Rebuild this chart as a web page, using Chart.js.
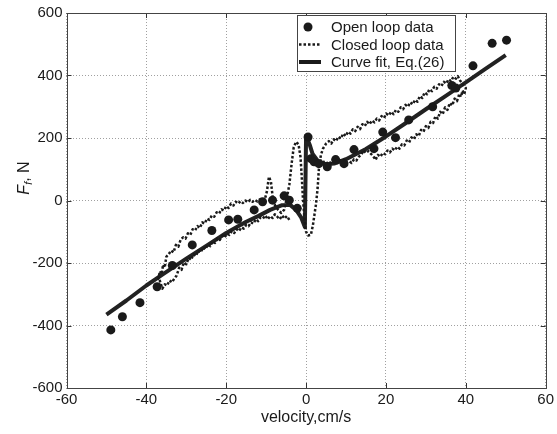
<!DOCTYPE html>
<html>
<head>
<meta charset="utf-8">
<script src="https://cdn.jsdelivr.net/npm/chart.js@4.4.1/dist/chart.umd.min.js"></script>
<style>
  html, body { margin: 0; padding: 0; background: #fff; }
  #wrap { width: 557px; height: 434px; }
</style>
</head>
<body>
<div id="wrap"><canvas id="c" width="557" height="434"></canvas></div>
<script>
// ===== DATA =====
const xTicks = [-60, -40, -20, 0, 20, 40, 60];
const yTicks = [-600, -400, -200, 0, 200, 400, 600];

// open loop measurements [velocity cm/s, force N]
const openLoop = [
    [-48.9, -414], [-46, -372], [-41.6, -327], [-37.3, -276], [-33.5, -208],
    [-28.5, -142], [-23.6, -96], [-19.4, -62], [-17.1, -60], [-13, -30],
    [-10.9, -4], [-8.4, 1], [-5.5, 15], [-4.2, 1], [-2.2, -25],
    [0.5, 203], [1.2, 134], [2, 124], [3.2, 118], [5.3, 108], [7.4, 131],
    [9.5, 118], [12, 163], [17, 166], [19.2, 219], [22.4, 201], [25.7, 258],
    [31.7, 300], [36.5, 368], [37.5, 360], [41.8, 431], [46.6, 503], [50.2, 513]
];

// closed loop sweep, lower branch of negative side (walking towards -37)
const closedLowerNeg = [
    [-4.2, -62], [-4.8, -50], [-5.4, -58], [-6, -48], [-6.6, -60], [-7.2, -52], [-7.8, -44],
    [-8.4, -56], [-9, -50], [-9.6, -60], [-10.2, -48], [-10.8, -58], [-11.4, -54], [-12, -66],
    [-12.6, -60], [-13.2, -74], [-13.8, -70], [-14.4, -82], [-15, -78], [-15.6, -90],
    [-16.2, -86], [-16.8, -98], [-17.4, -92], [-18, -104], [-18.6, -98], [-19.2, -110],
    [-19.8, -106], [-20.4, -118], [-21, -112], [-21.6, -126], [-22.2, -122], [-22.8, -136],
    [-23.4, -130], [-24, -146], [-24.6, -140], [-25.2, -156], [-25.8, -150], [-26.4, -166],
    [-27, -160], [-27.6, -178], [-28.2, -172], [-28.8, -190], [-29.4, -184], [-30, -204],
    [-30.6, -198], [-31.2, -222], [-31.8, -215], [-32.4, -240], [-33, -250], [-33.6, -262],
    [-34.2, -256], [-34.8, -272], [-35.4, -268], [-36, -282], [-36.5, -262], [-37, -240]
];

// upper branch on negative side, the spikes round zero, upper branch positive side
const closedUpper = [
    [-37, -250], [-36.6, -226], [-36.2, -236], [-35.8, -205], [-35.4, -215], [-35, -180],
    [-34.4, -172], [-33.8, -160], [-33.2, -166], [-32.6, -142], [-32, -148], [-31.4, -125],
    [-30.8, -118], [-30.2, -122], [-29.6, -105], [-29, -110], [-28.4, -92], [-27.8, -96],
    [-27.2, -82], [-26.6, -88], [-26, -70], [-25.4, -74], [-24.8, -58], [-24.2, -62],
    [-23.6, -48], [-23, -52], [-22.4, -38], [-21.8, -42], [-21.2, -28], [-20.6, -32],
    [-20, -18], [-19.4, -24], [-18.8, -10], [-18.2, -16], [-17.6, -4], [-17, -10],
    [-16.4, -2], [-15.8, -8], [-15.2, 0], [-14.6, -6], [-14, 2], [-13.4, -4], [-12.8, 2],
    [-12.2, -3], [-11.6, 3], [-11, -2], [-10.4, 0], [-9.8, 30], [-9.3, 76], [-8.8, 60],
    [-8.4, 15], [-7.8, -15], [-7, -30], [-6.2, -40], [-5.5, -30], [-4.8, 10], [-4.2, 50],
    [-3.6, 120], [-3.1, 170], [-2.5, 188], [-1.9, 180], [-1.4, 140], [-1.1, 80],
    [-0.8, 10], [-0.4, -60], [0, -100], [0.5, -112], [1.2, -110], [1.7, -80], [2.1, -45],
    [2.5, -10], [2.9, 40], [3.2, 100], [3.7, 145], [4.2, 165], [5, 182], [5.7, 190],
    [6.3, 182], [6.9, 196], [7.5, 190], [8.1, 204], [8.7, 198], [9.3, 214], [9.9, 206],
    [10.5, 220], [11.1, 214], [11.7, 228], [12.3, 222], [12.9, 236], [13.5, 228],
    [14.1, 244], [14.7, 238], [15.3, 252], [15.9, 244], [16.5, 256], [17.1, 250],
    [17.7, 262], [18.3, 256], [18.9, 270], [19.5, 264], [20.1, 278], [20.7, 272],
    [21.3, 284], [21.9, 276], [22.5, 290], [23.1, 284], [23.7, 298], [24.3, 292],
    [24.9, 306], [25.5, 300], [26.1, 314], [26.7, 308], [27.3, 322], [27.9, 316],
    [28.5, 334], [29.1, 328], [29.7, 346], [30.3, 340], [30.9, 356], [31.5, 350],
    [32.1, 364], [32.7, 358], [33.3, 372], [33.9, 366], [34.5, 380], [35.1, 374],
    [35.7, 388], [36.3, 382], [36.9, 396], [37.5, 390], [38, 398], [38.5, 385]
];

// lower branch positive side (walking back towards zero)
const closedLowerPos = [
    [40, 360], [39.6, 340], [39.2, 352], [38.8, 332], [38.4, 342], [37.8, 318], [37.2, 326],
    [36.6, 304], [36, 312], [35.4, 290], [34.8, 298], [34.2, 276], [33.6, 284], [33, 262],
    [32.4, 270], [31.8, 248], [31.2, 252], [30.6, 232], [30, 238], [29.4, 220], [28.8, 226],
    [28.2, 206], [27.6, 212], [27, 196], [26.4, 202], [25.8, 186], [25.2, 192], [24.6, 176],
    [24, 180], [23.4, 166], [22.8, 172], [22.2, 160], [21.6, 166], [21, 154], [20.4, 160],
    [19.8, 148], [19.2, 152], [18.6, 140], [18, 146], [17.4, 130], [16.8, 142], [16.2, 150],
    [15.6, 158], [15, 152], [14.4, 160], [13.8, 146], [13.2, 140], [12.6, 128], [12, 132],
    [11.4, 120], [10.8, 126], [10.2, 122], [9.6, 130], [9, 124], [8.4, 130], [7.8, 120],
    [7.2, 126], [6.6, 116], [6, 122], [5.4, 118], [4.8, 126], [4.2, 122], [3.5, 130]
];

// curve fit, Eq.(26)
const curveFit = [
    [-50, -365], [-45, -320], [-40, -272], [-36, -237], [-30, -186], [-25, -145],
    [-20, -104], [-15, -68], [-12, -50], [-9, -30], [-6, -15], [-4, -14], [-2.5, -30],
    [-1.2, -55], [-0.3, -85], [0, 208], [1, 175], [1.6, 150], [3, 126], [5, 116],
    [7, 118], [10, 132], [15, 165], [20, 205], [25, 248], [30, 292], [35, 335],
    [40, 378], [45, 422], [50, 465]
];

const FONT = "'Liberation Sans', Arial, Helvetica, sans-serif";
const INK = '#1a1a1a';

const toPts = arr => arr.map(p => ({ x: p[0], y: p[1] }));

// frame, inward ticks, legend box and the axis titles
const decorations = {
    id: 'decorations',
    afterDraw(chart) {
        const { ctx, chartArea: a, scales } = chart;
        ctx.save();

        // inward tick marks
        ctx.strokeStyle = '#333';
        ctx.lineWidth = 1;
        ctx.beginPath();
        xTicks.forEach(v => {
            const px = Math.round(scales.x.getPixelForValue(v)) + 0.5;
            ctx.moveTo(px, a.bottom); ctx.lineTo(px, a.bottom - 5);
            ctx.moveTo(px, a.top); ctx.lineTo(px, a.top + 5);
        });
        yTicks.forEach(v => {
            const py = Math.round(scales.y.getPixelForValue(v)) + 0.5;
            ctx.moveTo(a.left, py); ctx.lineTo(a.left + 5, py);
            ctx.moveTo(a.right, py); ctx.lineTo(a.right - 5, py);
        });
        ctx.stroke();

        // frame
        ctx.strokeStyle = '#444';
        ctx.strokeRect(Math.round(a.left) + 0.5, Math.round(a.top) + 0.5,
            Math.round(a.right - a.left), Math.round(a.bottom - a.top));

        // legend
        const ds = chart.data.datasets;
        const bx = 297.5, by = 15.5, bw = 158, bh = 56;
        ctx.fillStyle = '#fff';
        ctx.fillRect(bx, by, bw, bh);
        ctx.strokeStyle = '#444';
        ctx.lineWidth = 1;
        ctx.strokeRect(bx, by, bw, bh);

        const rows = [27, 44.5, 62];
        ctx.fillStyle = INK;
        ctx.beginPath();
        ctx.arc(308, rows[0], 4.5, 0, Math.PI * 2);
        ctx.fill();

        ctx.strokeStyle = INK;
        ctx.lineWidth = 2.5;
        ctx.setLineDash([2.5, 2]);
        ctx.beginPath();
        ctx.moveTo(299, rows[1]); ctx.lineTo(321, rows[1]);
        ctx.stroke();
        ctx.setLineDash([]);
        ctx.lineWidth = 4;
        ctx.beginPath();
        ctx.moveTo(299, rows[2]); ctx.lineTo(321, rows[2]);
        ctx.stroke();

        ctx.font = '15px ' + FONT;
        ctx.textBaseline = 'middle';
        ctx.textAlign = 'left';
        ds.forEach((d, i) => ctx.fillText(d.label, 331, rows[i] + 1));

        // x title
        ctx.textAlign = 'center';
        ctx.font = '16px ' + FONT;
        ctx.fillText('velocity,cm/s', (a.left + a.right) / 2, 418);

        // y title: italic F with subscript f
        ctx.translate(25, 178);
        ctx.rotate(-Math.PI / 2);
        const big = 'italic 16px ' + FONT, sub = 'italic 11px ' + FONT, norm = '16px ' + FONT;
        ctx.font = big; const wF = ctx.measureText('F').width;
        ctx.font = sub; const wf = ctx.measureText('f').width;
        ctx.font = norm; const wN = ctx.measureText(', N').width;
        let x0 = -(wF + wf + wN) / 2;
        ctx.textAlign = 'left';
        ctx.font = big; ctx.fillText('F', x0, 0); x0 += wF;
        ctx.font = sub; ctx.fillText('f', x0, 4); x0 += wf;
        ctx.font = norm; ctx.fillText(', N', x0, 0);

        ctx.restore();
    }
};

const gridStyle = { color: '#a0a0a0', lineWidth: 1, drawTicks: false };

new Chart(document.getElementById('c'), {
    type: 'scatter',
    data: {
        datasets: [
            {
                label: 'Open loop data',
                data: toPts(openLoop),
                backgroundColor: INK,
                borderColor: INK,
                pointRadius: 4.5,
                pointBorderWidth: 0
            },
            {
                label: 'Closed loop data',
                data: toPts([...closedLowerNeg, ...closedUpper, ...closedLowerPos]),
                showLine: true,
                borderColor: INK,
                borderWidth: 2.5,
                borderDash: [2.5, 2],
                borderJoinStyle: 'round',
                pointRadius: 0,
                tension: 0
            },
            {
                label: 'Curve fit, Eq.(26)',
                data: toPts(curveFit),
                showLine: true,
                borderColor: '#222',
                borderWidth: 4,
                borderJoinStyle: 'round',
                pointRadius: 0,
                tension: 0
            }
        ]
    },
    options: {
        responsive: false,
        animation: false,
        layout: { padding: { top: 12, right: 9, left: 0, bottom: 0 } },
        plugins: {
            legend: { display: false },
            tooltip: { enabled: false }
        },
        scales: {
            x: {
                type: 'linear',
                min: -60, max: 60,
                afterBuildTicks: s => { s.ticks = xTicks.map(v => ({ value: v })); },
                afterFit: s => { s.height = 46; },
                grid: { ...gridStyle },
                border: { display: false, dash: [1, 2] },
                ticks: { color: INK, font: { family: FONT, size: 15 }, padding: 3, maxRotation: 0 }
            },
            y: {
                type: 'linear',
                min: -600, max: 600,
                afterBuildTicks: s => { s.ticks = yTicks.map(v => ({ value: v })); },
                afterFit: s => { s.width = 66.5; },
                grid: { ...gridStyle },
                border: { display: false, dash: [1, 2] },
                ticks: { color: INK, font: { family: FONT, size: 15 }, padding: 4 }
            }
        }
    },
    plugins: [decorations]
});
</script>
</body>
</html>
